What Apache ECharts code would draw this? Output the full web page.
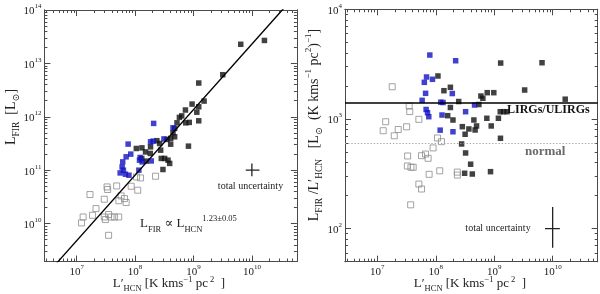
<!DOCTYPE html>
<html><head><meta charset="utf-8">
<script src="https://cdn.jsdelivr.net/npm/echarts@6/dist/echarts.min.js"></script>
<style>html,body{margin:0;padding:0;background:#fff}#c{width:600px;height:294px}</style>
</head><body><div id="c"></div>
<script>
// ---------- data ----------
// axis ranges and tick exponents
const xMin = 2.8e6, xMax = 5.9e10;
const yLeftMin = 1.95e9, yLeftMax = 1e14;
const yRightMin = 50, yRightMax = 1e4;
const xTickExps = [7, 8, 9, 10];
const yLeftTickExps = [10, 11, 12, 13, 14];
const yRightTickExps = [2, 3, 4];

// left panel: L'HCN vs L_FIR
const leftBlackHCN = [1.64e10,6.44e9,3.17e9,1.23e9,1.52e9,9.46e8,1.23e9,7.28e8,1.14e9,5.74e8,6.29e8,1.23e9,5.22e8,7.36e8,8.47e8,4.76e8,4.46e8,4.76e8,4.07e8,3.51e8,2.36e8,4.07e8,2.63e8,1.84e8,1.31e8,1.05e8,1.51e8,1.82e8,2.74e8,1.30e8,2.81e8,3.21e8,3.66e8,3.91e8,3.00e8,1.55e8,8.20e8];
const leftBlackFIR = [2.69e13,2.28e13,6.14e12,4.29e12,1.97e12,1.73e12,1.54e12,1.34e12,1.22e12,9.75e11,1.04e12,8.41e11,7.71e11,7.71e11,7.85e11,6.05e11,5.01e11,4.22e11,3.94e11,3.77e11,3.57e11,3.07e11,3.17e11,2.74e11,2.62e11,2.55e11,2.20e11,2.06e11,2.37e11,1.66e11,1.66e11,1.66e11,1.54e11,1.34e11,1.03e11,1.48e11,2.82e11];
const leftBlueHCN = [2.08e8,4.46e8,1.84e8,2.03e8,3.12e8,7.60e7,8.43e7,7.03e7,6.14e7,6.00e7,6.31e7,5.55e7,6.84e7,1.22e8,1.19e8,1.32e8,1.89e8,1.16e8,7.85e7];
const leftBlueFIR = [7.52e11,6.22e11,3.40e11,3.50e11,3.85e11,3.08e11,2.00e11,1.78e11,1.43e11,1.15e11,1.00e11,8.89e10,8.41e10,1.73e11,1.54e11,1.43e11,1.49e11,1.00e11,8.05e10];
const leftGrayHCN = [2.24e8,1.06e8,1.24e8,3.31e7,3.39e7,4.84e7,8.57e7,1.11e8,1.69e7,2.97e7,5.77e7,6.58e7,7.03e7,5.28e7,2.14e7,1.29e7,1.21e7,1.87e7,2.97e7,3.52e7,3.88e7,4.42e7,5.24e7,3.10e7,3.52e7];
const leftGrayFIR = [7.71e10,7.48e10,7.17e10,4.86e10,4.35e10,5.07e10,5.01e10,4.22e10,3.50e10,2.86e10,3.30e10,2.94e10,2.48e10,2.68e10,1.91e10,1.33e10,1.03e10,1.43e10,1.33e10,1.48e10,1.33e10,1.33e10,1.33e10,1.19e10,6.03e9];
// fit line L_FIR ∝ L'HCN^1.23 (end points)
const fitHCN = [4.5e6, 4.0e10];
const fitFIR = [1.8e9, 1.26e14];
// uncertainty cross (left)
const uncLeftCenter = [1e10, 1e11];
const uncLeftHCN = [7.85e9, 1.35e10];
const uncLeftFIR = [7.7e10, 1.34e11];

// right panel: L'HCN vs L_FIR / L'HCN
const rightBlackHCN = [1.09e8,1.38e8,1.78e8,2.47e8,1.78e8,1.60e8,1.97e8,5.92e8,6.40e8,7.60e8,9.84e8,5.47e8,1.29e9,6.58e9,3.32e9,1.64e10,1.27e9,1.45e9,1.66e9,4.49e8,7.48e8,1.18e9,2.85e8,3.69e8,4.99e8,4.71e8,8.89e8,3.18e8,1.28e9,2.77e8,3.24e8,3.95e8,3.12e8,4.22e8,8.65e8];
const rightBlackRatio = [2466,1811,1945,1443,1273,1072,979,1619,1544,1737,1737,1355,3236,3258,1837,1515,1165,1165,1165,979,1015,1015,851,811,864,794,864,726,667,592,490,387,320,315,331];
const rightBlueHCN = [7.91e7,2.19e8,6.95e7,8.79e7,6.37e7,6.70e7,1.92e8,5.85e7,6.84e7,7.23e7,7.60e7,1.22e8,1.33e8,3.24e8,1.28e8,4.61e8,1.19e8,1.97e8];
const rightBlueRatio = [3828,3396,2414,2301,2159,1714,1706,1479,1221,1141,1049,1423,1413,1165,1087,1341,791,765];
const rightGrayHCN = [1.80e7,3.51e7,3.59e7,5.14e7,1.39e7,1.26e7,2.28e7,3.17e7,1.95e7,1.07e8,1.25e8,9.0e7,3.30e7,5.71e7,6.68e7,7.40e7,3.27e7,3.76e7,4.11e7,7.7e7,1.17e8,2.34e8,2.34e8,5.14e7,5.71e7,3.72e7];
const rightGrayRatio = [1968,1312,1169,993,944,782,802,849,703,671,621,545,460,463,479,438,373,363,363,313,337,328,308,255,230,165];
const lirgLevel = 1400;
const normalLevel = 600;
// uncertainty cross (right)
const uncRightCenter = [1e10, 100];
const uncRightHCN = [7.4e9, 1.33e10];
const uncRightRatio = [67, 158];

// ---------- chart ----------
const FONT = '"Liberation Serif","DejaVu Serif",serif';
const AX = '#4a4a4a';
const TXT = '#222';
const BLUE = '#1212c4';

function minorTicks(lo, hi) {
  const out = [];
  for (let d = Math.floor(Math.log10(lo)); d <= Math.ceil(Math.log10(hi)); d++)
    for (let m = 2; m <= 9; m++) { const v = m * Math.pow(10, d); if (v >= lo && v <= hi) out.push(v); }
  return out;
}
function axis(grid, pos, kind, min, max, exps, showLabel, margin) {
  const majors = exps.map(e => Math.pow(10, e));
  return {
    type: 'log', logBase: 10, gridIndex: grid, position: pos, min: min, max: max,
    axisLine: { show: true, onZero: false, lineStyle: { color: AX, width: 1 } },
    axisTick: { show: true, inside: true, length: kind === 'major' ? 6 : 3,
      customValues: kind === 'major' ? majors : minorTicks(min, max),
      lineStyle: { color: AX, width: 1 } },
    axisLabel: { show: showLabel, customValues: majors, margin: margin || 3,
      formatter: v => '{b|10}{s|' + Math.round(Math.log10(v)) + '}',
      rich: {
        b: { fontFamily: FONT, fontSize: 11, color: TXT, lineHeight: 14, verticalAlign: 'bottom' },
        s: { fontFamily: FONT, fontSize: 7, color: TXT, lineHeight: 8, verticalAlign: 'top' }
      } },
    splitLine: { show: false }, minorTick: { show: false }, minorSplitLine: { show: false }
  };
}
const xAxes = [], yAxes = [];
[[0, yLeftMin, yLeftMax, yLeftTickExps], [1, yRightMin, yRightMax, yRightTickExps]].forEach(([g, ymin, ymax, yexps]) => {
  xAxes.push(axis(g, 'bottom', 'major', xMin, xMax, xTickExps, true, 2));
  xAxes.push(axis(g, 'bottom', 'minor', xMin, xMax, xTickExps, false));
  xAxes.push(axis(g, 'top', 'major', xMin, xMax, xTickExps, false));
  xAxes.push(axis(g, 'top', 'minor', xMin, xMax, xTickExps, false));
  yAxes.push(axis(g, 'left', 'major', ymin, ymax, yexps, true, 3));
  yAxes.push(axis(g, 'left', 'minor', ymin, ymax, yexps, false));
  yAxes.push(axis(g, 'right', 'major', ymin, ymax, yexps, false));
  yAxes.push(axis(g, 'right', 'minor', ymin, ymax, yexps, false));
});

const pts = (xs, ys) => xs.map((x, i) => [x, ys[i]]);
const openSq = { color: 'rgba(255,255,255,0)', borderColor: '#8c8c8c', borderWidth: 1 };
const lineS = (xi, yi, data, style) => ({ type: 'line', xAxisIndex: xi, yAxisIndex: yi, data: data,
  symbol: 'none', silent: true, lineStyle: style, z: 3 });

const series = [
  { type: 'scatter', xAxisIndex: 0, yAxisIndex: 0, data: pts(leftGrayHCN, leftGrayFIR), symbol: 'rect', symbolSize: 6, itemStyle: openSq, z: 2 },
  { type: 'scatter', xAxisIndex: 0, yAxisIndex: 0, data: pts(leftBlackHCN, leftBlackFIR), symbol: 'rect', symbolSize: 5.5, itemStyle: { color: '#111' }, z: 2 },
  { type: 'scatter', xAxisIndex: 0, yAxisIndex: 0, data: pts(leftBlueHCN, leftBlueFIR), symbol: 'rect', symbolSize: 5.5, itemStyle: { color: BLUE }, z: 2 },
  lineS(0, 0, pts(fitHCN, fitFIR), { color: '#000', width: 1.4 }),
  lineS(0, 0, [[uncLeftHCN[0], uncLeftCenter[1]], [uncLeftHCN[1], uncLeftCenter[1]]], { color: '#222', width: 1.3 }),
  lineS(0, 0, [[uncLeftCenter[0], uncLeftFIR[0]], [uncLeftCenter[0], uncLeftFIR[1]]], { color: '#222', width: 1.3 }),

  { type: 'scatter', xAxisIndex: 4, yAxisIndex: 4, data: pts(rightGrayHCN, rightGrayRatio), symbol: 'rect', symbolSize: 6, itemStyle: openSq, z: 2,
    markLine: { silent: true, symbol: 'none', label: { show: false }, animation: false,
      data: [
        { yAxis: lirgLevel, lineStyle: { color: '#000', width: 1.5, type: 'solid' } },
        { yAxis: normalLevel, lineStyle: { color: '#9a9a9a', width: 1.2, type: [1.2, 2] } }
      ] } },
  { type: 'scatter', xAxisIndex: 4, yAxisIndex: 4, data: pts(rightBlackHCN, rightBlackRatio), symbol: 'rect', symbolSize: 5.5, itemStyle: { color: '#111' }, z: 2 },
  { type: 'scatter', xAxisIndex: 4, yAxisIndex: 4, data: pts(rightBlueHCN, rightBlueRatio), symbol: 'rect', symbolSize: 5.5, itemStyle: { color: BLUE }, z: 2 },
  lineS(4, 4, [[uncRightHCN[0], uncRightCenter[1]], [uncRightHCN[1], uncRightCenter[1]]], { color: '#222', width: 1.3 }),
  lineS(4, 4, [[uncRightCenter[0], uncRightRatio[0]], [uncRightCenter[0], uncRightRatio[1]]], { color: '#222', width: 1.3 })
];

function rs(size, lh, va, extra) {
  return Object.assign({ fontFamily: FONT, fontSize: size, lineHeight: lh, verticalAlign: va, fill: TXT, color: TXT }, extra || {});
}
function txt(x, y, text, rich, align, rot) {
  return { type: 'text', x: x, y: y, rotation: rot || 0, silent: true, z: 10,
    style: { text: text, rich: rich, fill: TXT, fontFamily: FONT, fontSize: 12,
      align: align || 'center', textAlign: align || 'center', verticalAlign: 'middle', textVerticalAlign: 'middle' } };
}
const titleRich = { m: rs(13, 18, 'middle'), sub: rs(8.5, 11, 'bottom'), sup: rs(8.5, 8, 'top') };
const yTitleRich = { m: rs(14, 20, 'middle'), sub: rs(9.5, 12, 'bottom'), sup: rs(9, 9, 'top') };
const xTitle = '{m|L′}{sub|HCN}{m| [K kms}{sup|−1}{m| pc}{sup| 2}{m|  ]}';
const graphics = [
  txt(169, 284, xTitle, titleRich),
  txt(470, 284, xTitle, titleRich),
  txt(11, 117, '{m|L}{sub|FIR}{m|  [L}{sub|⊙}{m|]}', yTitleRich, 'center', Math.PI / 2),
  txt(314, 125, '{m|L}{sub|FIR}{m| /L′}{sub|HCN}{m|   [L}{sub|⊙}{m|  (K kms}{sup|−1}{m| pc}{sup|2}{m|)}{sup|−1}{m|]}', yTitleRich, 'center', Math.PI / 2),
  txt(250.5, 186, '{t|total uncertainty}', { t: rs(10, 12, 'middle') }),
  txt(498, 228, '{t|total uncertainty}', { t: rs(10, 12, 'middle') }),
  txt(140, 224, '{m|L}{sub|FIR}{m| ∝ L}{sub|HCN}{sup|1.23±0.05}',
    { m: rs(13, 20, 'middle'), sub: rs(8.5, 13, 'bottom'), sup: rs(8.5, 7, 'top') }, 'left'),
  txt(507, 110, '{t|LIRGs/ULIRGs}', { t: rs(12, 16, 'middle', { fontWeight: 'bold', fill: '#111', color: '#111' }) }, 'left'),
  txt(525, 152, '{t|normal}', { t: rs(13, 16, 'middle', { fontWeight: 'bold', fill: '#6a6a6a', color: '#6a6a6a' }) }, 'left')
];

const chart = echarts.init(document.getElementById('c'), null, { renderer: 'canvas' });
chart.setOption({
  animation: false,
  backgroundColor: '#fff',
  grid: [
    { left: 44.4, top: 10, width: 252.5, height: 251.5, outerBoundsMode: 'none' },
    { left: 345, top: 9.3, width: 252.7, height: 252.4, outerBoundsMode: 'none' }
  ],
  xAxis: xAxes,
  yAxis: yAxes,
  series: series,
  graphic: graphics
});
</script></body></html>
